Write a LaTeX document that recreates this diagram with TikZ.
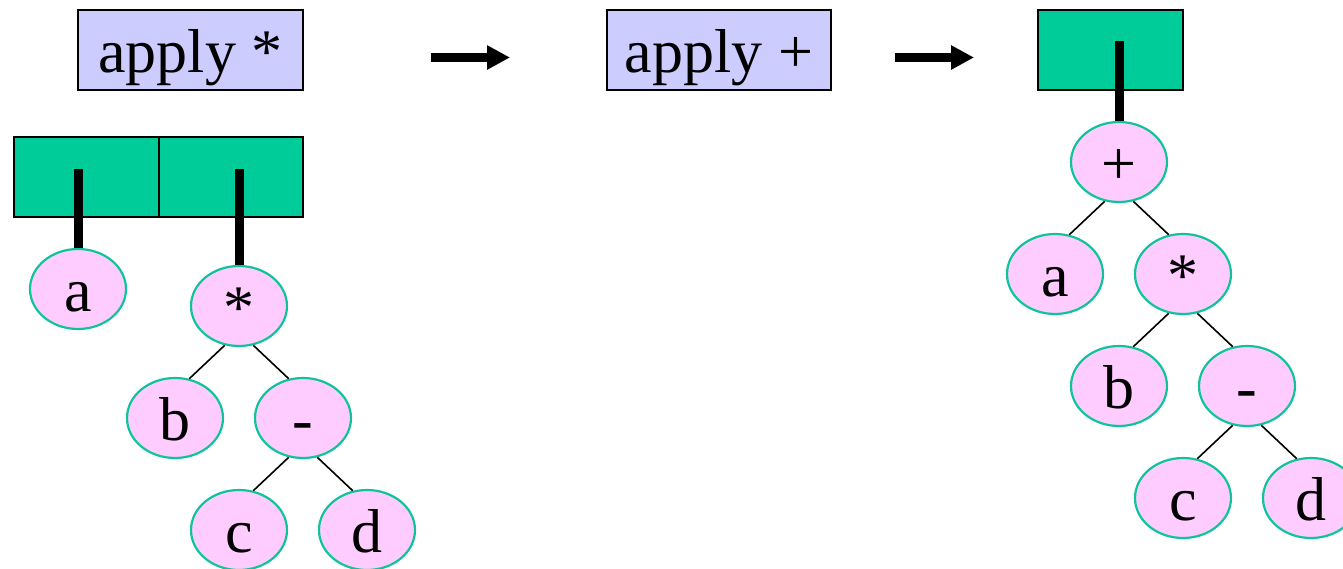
\documentclass[tikz,border=0pt]{standalone}
\usepackage{fontspec}
\setmainfont{Liberation Serif}
\newfontfamily\tnr{Liberation Serif}
\usetikzlibrary{arrows.meta,shapes.geometric,calc}
\definecolor{lav}{HTML}{CCCCFF}
\definecolor{grn}{HTML}{00CC99}
\definecolor{pnk}{HTML}{FFCCFF}
\definecolor{tealb}{HTML}{10C49A}
\begin{document}
\begin{tikzpicture}[x=0.5pt,y=-0.5pt,
  every node/.style={font=\tnr\fontsize{31pt}{36pt}\selectfont, inner sep=0pt, text height=22.5pt, text depth=0pt},
  applybox/.style={draw=black, line width=1pt, fill=lav, minimum height=40pt},
  cell/.style={draw=black, line width=1pt, fill=grn, minimum height=40pt},
  leaf/.style={ellipse, draw=tealb, line width=1.1pt, fill=pnk, minimum width=48pt, minimum height=40pt},
  stem/.style={line width=4.5pt, black},
  edge/.style={line width=0.8pt, black},
  bigarrow/.style={line width=4.5pt, -{Triangle[length=11.5pt,width=11.5pt]}}
]
\useasboundingbox (0,0) rectangle (1343,568);
% top row
\node[applybox, minimum width=112.5pt] (ap1) at (190.5,50) {apply *};
\node[applybox, minimum width=112pt] (ap2) at (719,50) {apply +};
\coordinate (a1s) at (431,57.5);
\coordinate (a1e) at (510,57.5);
\coordinate (a2s) at (895,57.5);
\coordinate (a2e) at (974,57.5);
\draw[bigarrow] (a1s) -- (a1e);
\draw[bigarrow] (a2s) -- (a2e);
% cells
\node[cell, minimum width=72.5pt] (c1) at (86.5,177) {};
\node[cell, minimum width=72pt] (c2) at (231,177) {};
\node[cell, minimum width=72.5pt] (c3) at (1110.5,50) {};
\coordinate (t1) at (78,169);
\coordinate (t2) at (239,169);
\coordinate (t3) at (1119,41);
% left trees
\node[leaf] (la) at (78,289) {a};
\node[leaf] (ls) at (239,306) {*};
\node[leaf] (lb) at (175,418) {b};
\node[leaf] (lm) at (303,418) {-};
\node[leaf] (lc) at (239,530) {c};
\node[leaf] (ld) at (367,530) {d};
% right tree
\node[leaf] (rp) at (1119,162) {+};
\node[leaf] (ra) at (1055,274) {a};
\node[leaf] (rs) at (1183,274) {*};
\node[leaf] (rb) at (1119,386) {b};
\node[leaf] (rm) at (1247,386) {-};
\node[leaf] (rc) at (1183,498) {c};
\node[leaf] (rd) at (1311,498) {d};
% stems
\draw[stem] (t1) -- (la.north);
\draw[stem] (t2) -- (ls.north);
\draw[stem] (t3) -- (rp.north);
% edges
\draw[edge] (ls.-110) -- (lb.70);
\draw[edge] (ls.-70) -- (lm.110);
\draw[edge] (lm.-110) -- (lc.70);
\draw[edge] (lm.-70) -- (ld.110);
\draw[edge] (rp.-110) -- (ra.70);
\draw[edge] (rp.-70) -- (rs.110);
\draw[edge] (rs.-110) -- (rb.70);
\draw[edge] (rs.-70) -- (rm.110);
\draw[edge] (rm.-110) -- (rc.70);
\draw[edge] (rm.-70) -- (rd.110);
\end{tikzpicture}
\end{document}
